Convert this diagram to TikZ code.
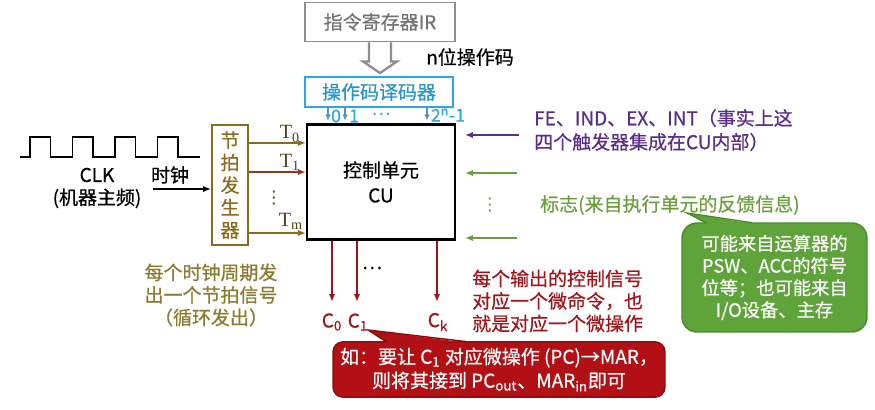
\documentclass[tikz,border=0pt]{standalone}
\usepackage{fontspec}
\setmainfont{Noto Sans CJK SC}[FakeBold=0.6]
\newfontfamily\timesfont{Liberation Serif}
\newfontfamily\symfont{DejaVu Sans}
\usepackage{tikz}
\usetikzlibrary{%
	calc,%
	arrows.meta,%
	positioning%
}

\definecolor{irgray}{HTML}{8E8E8E}
\definecolor{deccyan}{HTML}{2BA6DE}
\definecolor{decarrow}{HTML}{5E8DBE}
\definecolor{beatolive}{HTML}{8A6C1E}
\definecolor{beattext}{HTML}{8C7B2E}
\definecolor{tbrown}{HTML}{8E3A1C}
\definecolor{tlabel}{HTML}{4E4216}
\definecolor{fepurple}{HTML}{5A2D8C}
\definecolor{flaggreen}{HTML}{6A9F3C}
\definecolor{notegreen}{HTML}{5EA43A}
\definecolor{notegreenline}{HTML}{4A8A2C}
\definecolor{sigred}{HTML}{A3141A}
\definecolor{notered}{HTML}{B21014}
\definecolor{noteredline}{HTML}{8A0C0E}

\newcommand\txtsize{\fontsize{10.8}{12.8}\selectfont}

\tikzset{
	arr/.style={-{Latex[length=4.5pt,width=3.6pt]}, line width=0.9pt},
	irbox/.style={draw=irgray, line width=1.1pt, text=irgray!80!black, minimum width=3cm, minimum height=0.78cm, inner sep=0pt},
	decbox/.style={draw=deccyan, line width=1.1pt, text=deccyan!90!black, minimum width=2.96cm, minimum height=0.6cm, inner sep=0pt},
	cubox/.style={draw, line width=1.4pt, minimum width=2.96cm, minimum height=2.3cm, align=center, inner sep=0pt},
	genbox/.style={draw=beatolive, line width=1.1pt, text=beatolive, minimum width=0.72cm, minimum height=2.4cm, align=center, inner sep=0pt},
	tlab/.style={text=tlabel, font=\timesfont\fontsize{11.5}{13}\selectfont, inner sep=0pt},
	declab/.style={text=deccyan, font=\fontsize{10}{12}\selectfont, inner sep=0pt},
	vdot/.style={inner sep=0pt, font=\symfont\fontsize{10}{10}\selectfont},
	gnote/.style={fill=notegreen, draw=notegreenline, line width=0.8pt, rounded corners=0.3cm, text=white, align=center, minimum width=3.7cm, minimum height=2.18cm, font=\fontsize{10.4}{12.6}\selectfont},
	rnote/.style={fill=notered, draw=noteredline, line width=0.8pt, rounded corners=0.2cm, text=white, align=center, minimum width=6.64cm, minimum height=0.98cm, font=\fontsize{10.8}{13.6}\selectfont}
}

\begin{document}
\begin{tikzpicture}[x=0.02cm, y=-0.02cm, font=\txtsize]
	\useasboundingbox (0,0) rectangle (875,409);

	% Instruction register and opcode decoder
	\node[irbox] (ir) at (380,22) {指令寄存器IR};
	\node[decbox] (dec) at (379,92) {操作码译码器};
	\node (opcode) at (470,57) {n位操作码};

	% Hollow arrow from IR down to the decoder
	\draw[draw=irgray, fill=white, line width=1.3pt, line join=miter]
		($(ir.south)+(-11,0)$) -- ++(0,19) -- ++(-6,0)
		-- ($(ir.south |- dec.north)+(0,-3)$)
		-- ($(ir.south)+(17,19)$) -- ++(-6,0) -- ($(ir.south)+(11,0)$);

	% Control unit
	\node[cubox] (cu) at (381,182) {控制单元\\[1.5pt]CU};

	% Decoder outputs into CU
	\foreach \x in {328,345,427}
		\draw[-{Latex[length=3.5pt,width=3pt]}, decarrow, line width=0.6pt, shorten >=1.5pt] (dec.south -| \x,0) -- (cu.north -| \x,0);
	\node[declab] (o0) at (336,116) {0};
	\node[declab] (o1) at (354,116) {1};
	\node[declab] (odots) at (381,114) {\ldots};
	\node[declab] (on) at (448,115) {2\textsuperscript{\textit{n}}-1};

	% Clock waveform
	\draw[line width=1.1pt] (20,157) -- (30,157)
		\foreach \k in {1,...,4} { -- ++(0,-20) -- ++(20.5,0) -- ++(0,20) -- ++(22,0) };
	\node[align=center] (clk) at (97,188) {CLK\\(机器主频)};
	\node (clkname) at (170,175) {时钟};

	% Beat generator
	\node[genbox] (gen) at (230,185) {节\\拍\\发\\生\\器};
	\coordinate (clkin) at (153,189);
	\draw[arr] (clkin) -- (gen.west |- clkin);

	% Beats T0 ... Tm into CU
	\foreach \y/\c in {143/beatolive, 172/tbrown, 233/beatolive}
		\draw[arr, \c] (gen.east |- 0,\y) -- (cu.west |- 0,\y);
	\node[tlab] (t0) at (290,134) {T\textsubscript{0}};
	\node[tlab] (t1) at (290,162) {T\textsubscript{1}};
	\node[vdot, text=tlabel] (tdots) at (274,198) {⋮};
	\node[tlab] (tm) at (291,221) {T\textsubscript{m}};
	\node[text=beattext, align=center] (beattxt) at (211,295) {每个时钟周期发\\出一个节拍信号\\（循环发出）};

	% Inputs from the right
	\coordinate (fe) at (519,135);
	\coordinate (flag1) at (517,173);
	\coordinate (flag2) at (517,238);
	\draw[arr, fepurple, shorten >=5pt] (fe) -- (cu.east |- fe);
	\draw[arr, flaggreen, shorten >=5pt] (flag1) -- (cu.east |- flag1);
	\draw[arr, flaggreen, shorten >=5pt] (flag2) -- (cu.east |- flag2);
	\node[vdot, text=flaggreen] (fdots) at (490,205) {⋮};
	\node[text=fepurple, anchor=west, align=left, font=\fontsize{10.8}{13.6}\selectfont] (fetxt) at (528,130) {FE、IND、EX、INT（事实上这\\四个触发器集成在CU内部）};
	\node[text=flaggreen, anchor=west] (flagtxt) at (534,205) {标志(来自执行单元的反馈信息)};

	% Green callout
	\node[gnote] (gcall) at (774.5,277.5) {可能来自运算器的\\PSW、ACC的符号\\位等；也可能来自\\I/O设备、主存};
	\coordinate (gtip) at (687,213);
	\fill[notegreen] ($(gcall.north west)+(25,1.5)$) -- (gtip) -- ($(gcall.north west)+(71,1.5)$) -- cycle;
	\draw[notegreenline, line width=0.8pt] ($(gcall.north west)+(25,0.5)$) -- (gtip) -- ($(gcall.north west)+(71,0.5)$);

	% Control signals out of CU
	\node[text=sigred] (c0) at (332,322) {C\textsubscript{0}};
	\node[text=sigred] (c1) at (358,322) {C\textsubscript{1}};
	\node[text=sigred] (ck) at (438,322) {C\textsubscript{k}};
	\node (cdots) at (372,268) {\ldots};
	\foreach \x in {332,357,437}
		\draw[arr, sigred] (cu.south -| \x,0) -- (\x,302);
	\node[text=sigred, anchor=west, align=left] (sigtxt) at (466,301) {每个输出的控制信号\\对应一个微命令，也\\就是对应一个微操作};

	% Red callout
	\node[rnote] (rcall) at (499,369.5) {如：要让 C\textsubscript{1} 对应微操作 (PC)→MAR，\\则将其接到 PC\textsubscript{out}、MAR\textsubscript{in}即可};
	\coordinate (rtip) at (368,330);
	\fill[notered] ($(rcall.north west)+(54,1.5)$) -- (rtip) -- ($(rcall.north west)+(134,1.5)$) -- cycle;
	\draw[noteredline, line width=0.8pt] ($(rcall.north west)+(54,0.5)$) -- (rtip) -- ($(rcall.north west)+(134,0.5)$);
\end{tikzpicture}
\end{document}
